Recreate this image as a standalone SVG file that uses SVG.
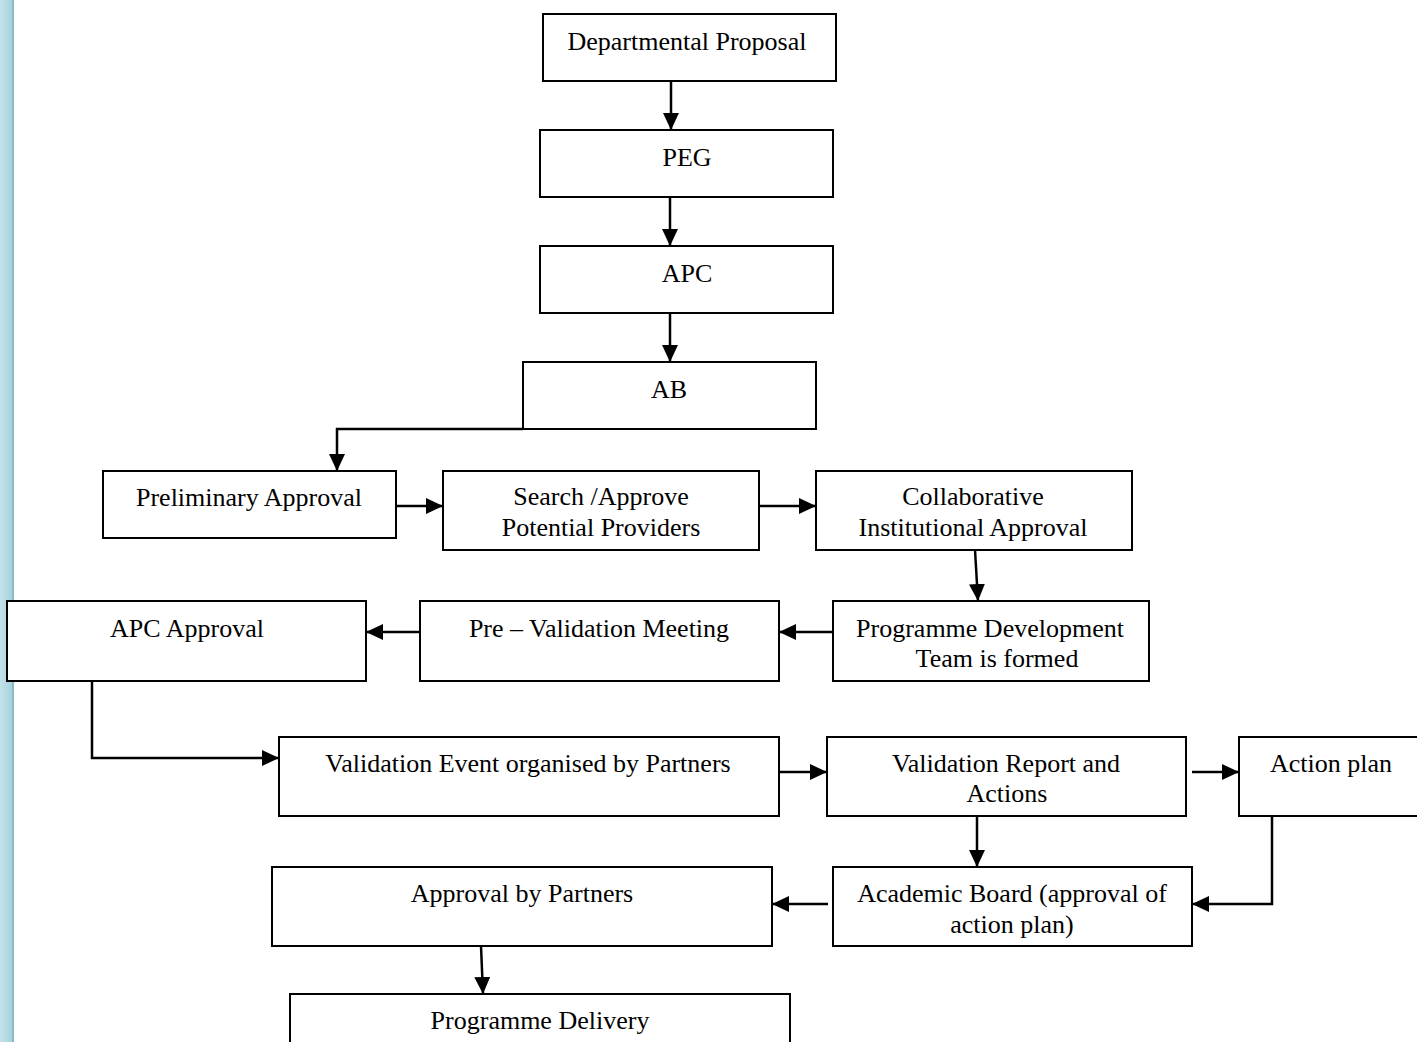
<svg xmlns="http://www.w3.org/2000/svg" width="1417" height="1042" viewBox="0 0 1417 1042">
<defs>
<linearGradient id="bar" x1="0" y1="0" x2="1" y2="0">
<stop offset="0" stop-color="#c4e2ea"/>
<stop offset="1" stop-color="#a6d2dd"/>
</linearGradient>
<marker id="ah" markerUnits="userSpaceOnUse" markerWidth="18" markerHeight="16" refX="17" refY="8" orient="auto">
<path d="M0,0 L17,8 L0,16 Z" fill="#000"/>
</marker>
<style>
.box{fill:#fff;stroke:#000;stroke-width:2}
.t{font-family:"Liberation Serif","Times New Roman",serif;font-size:26px;fill:#000;text-anchor:middle}
.c{fill:none;stroke:#000;stroke-width:2.5;marker-end:url(#ah)}
</style>
</defs>
<rect x="0" y="0" width="1417" height="1042" fill="#fff"/>
<rect x="0" y="0" width="12" height="1042" fill="url(#bar)"/>
<rect x="12" y="0" width="2" height="1042" fill="#8bbac6"/>

<g id="n-dept"><rect class="box" x="543" y="14" width="293" height="67"/><text class="t" x="687" y="50">Departmental Proposal</text></g>
<g id="n-peg"><rect class="box" x="540" y="130" width="293" height="67"/><text class="t" x="687" y="166">PEG</text></g>
<g id="n-apc"><rect class="box" x="540" y="246" width="293" height="67"/><text class="t" x="687" y="282">APC</text></g>
<g id="n-ab"><rect class="box" x="523" y="362" width="293" height="67"/><text class="t" x="669" y="398">AB</text></g>
<g id="n-prelim"><rect class="box" x="103" y="471" width="293" height="67"/><text class="t" x="249" y="506">Preliminary Approval</text></g>
<g id="n-search"><rect class="box" x="443" y="471" width="316" height="79"/><text class="t" x="601" y="505">Search /Approve</text><text class="t" x="601" y="536">Potential Providers</text></g>
<g id="n-collab"><rect class="box" x="816" y="471" width="316" height="79"/><text class="t" x="973" y="505">Collaborative</text><text class="t" x="973" y="536">Institutional Approval</text></g>
<g id="n-apcapp"><rect class="box" x="7" y="601" width="359" height="80"/><text class="t" x="187" y="637">APC Approval</text></g>
<g id="n-preval"><rect class="box" x="420" y="601" width="359" height="80"/><text class="t" x="599" y="637">Pre – Validation Meeting</text></g>
<g id="n-pdt"><rect class="box" x="833" y="601" width="316" height="80"/><text class="t" x="990" y="637">Programme Development</text><text class="t" x="997" y="667">Team is formed</text></g>
<g id="n-valevent"><rect class="box" x="279" y="737" width="500" height="79"/><text class="t" x="528" y="772">Validation Event organised by Partners</text></g>
<g id="n-valrep"><rect class="box" x="827" y="737" width="359" height="79"/><text class="t" x="1006" y="772">Validation Report and</text><text class="t" x="1007" y="802">Actions</text></g>
<g id="n-action"><rect class="box" x="1239" y="737" width="190" height="79"/><text class="t" x="1331" y="772">Action plan</text></g>
<g id="n-acad"><rect class="box" x="833" y="867" width="359" height="79"/><text class="t" x="1012" y="902">Academic Board (approval of</text><text class="t" x="1012" y="933">action plan)</text></g>
<g id="n-apppart"><rect class="box" x="272" y="867" width="500" height="79"/><text class="t" x="522" y="902">Approval by Partners</text></g>
<g id="n-deliv"><rect class="box" x="290" y="994" width="500" height="60"/><text class="t" x="540" y="1029">Programme Delivery</text></g>

<g id="connectors">
<path class="c" d="M671,81 L671,130"/>
<path class="c" d="M670,197 L670,246"/>
<path class="c" d="M670,313 L670,362"/>
<path class="c" d="M523,429 L337,429 L337,471"/>
<path class="c" d="M396,506 L443,506"/>
<path class="c" d="M759,506 L816,506"/>
<path class="c" d="M975,550 L978,601"/>
<path class="c" d="M833,632 L779,632"/>
<path class="c" d="M420,632 L366,632"/>
<path class="c" d="M92,681 L92,758 L279,758"/>
<path class="c" d="M779,772 L827,772"/>
<path class="c" d="M1192,772 L1239,772"/>
<path class="c" d="M977,816 L977,867"/>
<path class="c" d="M1272,816 L1272,904 L1192,904"/>
<path class="c" d="M828,904 L772,904"/>
<path class="c" d="M481,946 L483,994"/>
</g>
</svg>
